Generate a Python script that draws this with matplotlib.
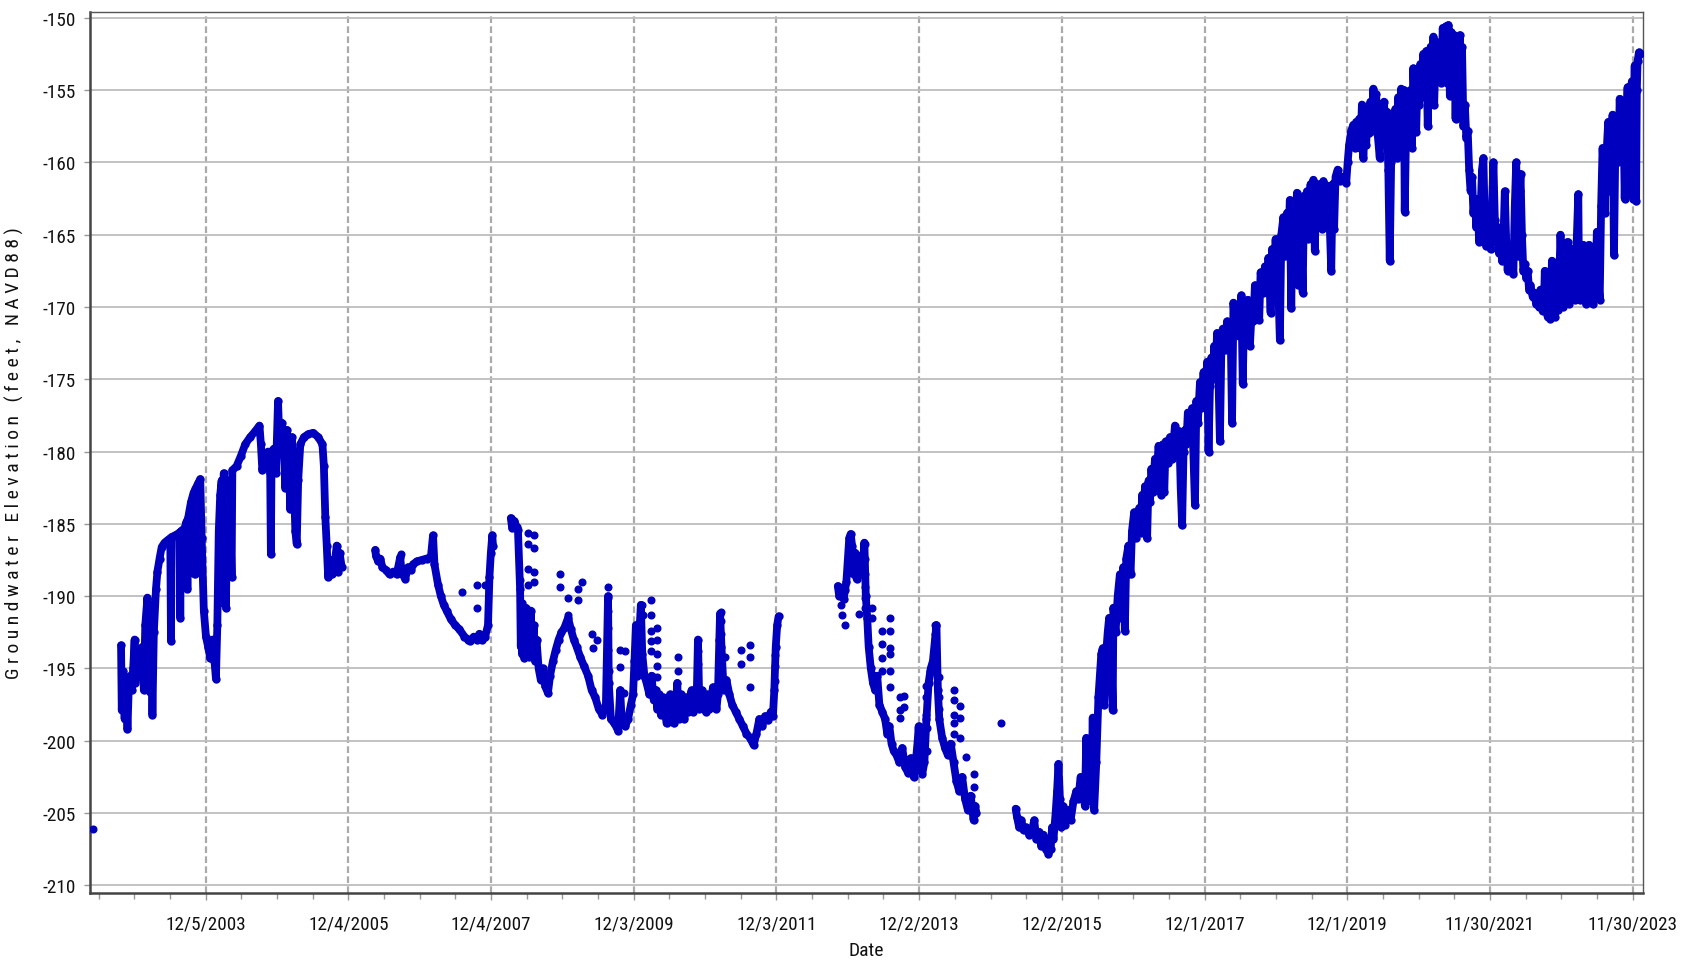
"""Groundwater elevation hydrograph, 2002-2024."""
from datetime import datetime

import matplotlib
matplotlib.use("Agg")
import matplotlib.pyplot as plt
from matplotlib.dates import date2num, num2date
from matplotlib.ticker import FixedLocator, FuncFormatter, MultipleLocator

plt.rcParams["axes.unicode_minus"] = False

# ---------------------------------------------------------------- data ----
# decimal years / feet NAVD88

lone_years = [2002.35]
lone_values = [-206.1]

seg1_years = [
    2002.74, 2002.75, 2002.77, 2002.79, 2002.81, 2002.83, 2002.85, 2002.87,
    2002.89, 2002.91, 2002.93, 2002.94, 2002.96, 2002.99, 2003.01, 2003.04,
    2003.06, 2003.08, 2003.11, 2003.12, 2003.14, 2003.16, 2003.18, 2003.20,
    2003.23, 2003.25, 2003.28, 2003.31, 2003.35, 2003.40, 2003.43, 2003.44,
    2003.45, 2003.50, 2003.56, 2003.57, 2003.58, 2003.63, 2003.66, 2003.67,
    2003.68, 2003.72, 2003.76, 2003.77, 2003.78, 2003.82, 2003.85, 2003.87,
    2003.90, 2003.93, 2003.96, 2003.99, 2004.02, 2004.05, 2004.07, 2004.09,
    2004.11, 2004.13, 2004.15, 2004.17, 2004.18, 2004.21, 2004.23, 2004.26,
    2004.29, 2004.30, 2004.36, 2004.42, 2004.48, 2004.55, 2004.62, 2004.68,
    2004.70, 2004.72, 2004.75, 2004.80, 2004.83, 2004.84, 2004.85, 2004.88,
    2004.91, 2004.94, 2004.96, 2004.99, 2005.02, 2005.04, 2005.06, 2005.09,
    2005.11, 2005.13, 2005.16, 2005.18, 2005.20, 2005.22, 2005.25, 2005.30,
    2005.36, 2005.43, 2005.50, 2005.56, 2005.58, 2005.60, 2005.62, 2005.64,
    2005.67, 2005.70, 2005.73, 2005.76, 2005.78, 2005.80, 2005.83,
]
seg1_values = [
    -193.4, -197.9, -195.2, -198.5, -196.0, -199.2, -196.0, -195.5,
    -196.5, -195.0, -193.0, -196.0, -195.0, -194.8, -195.3, -193.5,
    -196.5, -192.0, -190.1, -195.5, -196.6, -190.6, -198.2, -192.5,
    -189.5, -188.3, -187.4, -186.6, -186.3, -186.1, -186.0, -193.1,
    -185.9, -185.8, -185.6, -191.5, -185.5, -185.3, -184.8, -189.5,
    -184.6, -183.5, -182.8, -188.5, -182.6, -182.2, -181.9, -186.0,
    -191.0, -192.8, -193.5, -194.3, -193.0, -194.5, -195.7, -192.0,
    -185.5, -183.0, -182.0, -190.5, -181.5, -190.8, -183.5, -182.0,
    -188.7, -181.3, -181.0, -180.3, -179.5, -179.0, -178.6, -178.2,
    -179.5, -181.3, -180.5, -180.0, -181.5, -187.1, -180.0, -179.8,
    -181.5, -176.5, -179.5, -178.0, -180.0, -182.5, -178.5, -181.0,
    -184.0, -179.0, -182.0, -185.5, -186.4, -182.0, -179.5, -179.0,
    -178.8, -178.7, -179.0, -179.5, -181.0, -184.5, -186.5, -188.7,
    -187.5, -188.5, -187.8, -186.5, -188.3, -187.0, -188.0,
]

seg2_years = [
    2006.30, 2006.31, 2006.34, 2006.37, 2006.40, 2006.45, 2006.50, 2006.55,
    2006.60, 2006.65, 2006.67, 2006.72, 2006.76, 2006.80, 2006.83, 2006.88,
    2006.95, 2007.02, 2007.08, 2007.11, 2007.13, 2007.18, 2007.22, 2007.26,
    2007.30, 2007.36, 2007.42, 2007.48, 2007.55, 2007.60, 2007.63, 2007.68,
    2007.72, 2007.76, 2007.80, 2007.84, 2007.88, 2007.90, 2007.92, 2007.94,
    2007.95,
]
seg2_values = [
    -186.8, -187.2, -187.6, -187.4, -188.0, -188.2, -188.5, -188.3,
    -188.5, -187.3, -188.4, -188.8, -188.0, -188.2, -187.8, -187.6,
    -187.5, -187.4, -187.3, -185.8, -187.8, -189.2, -190.0, -190.6,
    -191.0, -191.6, -192.0, -192.3, -192.8, -193.0, -193.1, -192.8,
    -193.0, -192.6, -193.0, -192.8, -192.0, -188.7, -187.0, -185.8,
    -186.5,
]

seg3_years = [
    2008.20, 2008.22, 2008.25, 2008.28, 2008.30, 2008.33, 2008.34, 2008.35,
    2008.36, 2008.38, 2008.39, 2008.41, 2008.42, 2008.44, 2008.46, 2008.48,
    2008.50, 2008.52, 2008.54, 2008.56, 2008.59, 2008.62, 2008.65, 2008.68,
    2008.72, 2008.75, 2008.79, 2008.83, 2008.87, 2008.91, 2008.95, 2009.00,
    2009.04, 2009.08, 2009.12, 2009.17, 2009.22, 2009.28, 2009.33, 2009.38,
    2009.43, 2009.48, 2009.53, 2009.56, 2009.57, 2009.60, 2009.65, 2009.70,
    2009.73, 2009.75, 2009.80, 2009.84, 2009.88, 2009.91, 2009.93, 2009.95,
    2009.97, 2010.00, 2010.02, 2010.04, 2010.07, 2010.10, 2010.14, 2010.17,
    2010.20, 2010.23, 2010.25, 2010.28, 2010.30, 2010.33, 2010.35, 2010.38,
    2010.40, 2010.43, 2010.45, 2010.48, 2010.50, 2010.53, 2010.55, 2010.58,
    2010.60, 2010.63, 2010.65, 2010.68, 2010.70, 2010.73, 2010.75, 2010.78,
    2010.80, 2010.82, 2010.84, 2010.87, 2010.90, 2010.93, 2010.95, 2010.98,
    2011.00, 2011.03, 2011.05, 2011.08, 2011.10, 2011.12, 2011.13, 2011.15,
    2011.18, 2011.22, 2011.26, 2011.30, 2011.35, 2011.40, 2011.45, 2011.50,
    2011.55, 2011.60, 2011.64, 2011.68, 2011.72, 2011.76, 2011.80, 2011.84,
    2011.87, 2011.89, 2011.91, 2011.93, 2011.95,
]
seg3_values = [
    -184.6, -185.3, -184.8, -185.2, -185.4, -189.5, -193.5, -190.5,
    -194.0, -191.0, -194.3, -190.8, -193.5, -191.5, -194.2, -191.0,
    -194.0, -192.0, -194.5, -193.0, -195.0, -195.8, -195.0, -196.2,
    -196.7, -195.5, -194.5, -193.7, -193.0, -192.5, -192.2, -191.5,
    -192.3, -193.0, -193.5, -194.2, -194.8, -195.5, -196.5, -197.0,
    -197.8, -198.2, -197.5, -190.0, -196.0, -198.5, -198.8, -199.3,
    -196.5, -198.5, -199.0, -198.5, -197.5, -196.8, -194.5, -192.0,
    -195.5, -192.5, -190.6, -194.0, -195.5, -196.0, -196.8, -195.5,
    -197.2, -196.5, -197.8, -196.8, -198.2, -197.0, -197.5, -198.8,
    -198.5, -196.8, -197.8, -198.8, -198.3, -196.0, -198.5, -196.8,
    -197.5, -198.5, -197.0, -198.0, -197.3, -196.5, -198.0, -196.7,
    -197.5, -193.0, -197.8, -196.5, -197.2, -198.0, -196.8, -197.8,
    -197.5, -196.3, -197.0, -197.8, -196.8, -193.0, -191.2, -193.5,
    -196.5, -195.8, -196.8, -197.5, -198.0, -198.5, -199.0, -199.5,
    -199.8, -200.3, -199.5, -198.5, -199.0, -198.3, -198.6, -198.0,
    -198.3, -196.5, -193.5, -192.0, -191.4,
]

seg4_years = [
    2012.78, 2012.80, 2012.83, 2012.86, 2012.88, 2012.90, 2012.92, 2012.94,
    2012.96, 2012.98, 2013.00, 2013.02, 2013.04, 2013.06, 2013.09, 2013.12,
    2013.15, 2013.17, 2013.19, 2013.21, 2013.24, 2013.27, 2013.30, 2013.33,
    2013.36, 2013.40, 2013.44, 2013.47, 2013.50, 2013.53, 2013.56, 2013.60,
    2013.64, 2013.68, 2013.72, 2013.76, 2013.80, 2013.84, 2013.87, 2013.90,
    2013.91, 2013.93, 2013.96, 2013.99, 2014.02, 2014.05, 2014.08, 2014.11,
    2014.14, 2014.16, 2014.18, 2014.20, 2014.24, 2014.28, 2014.32, 2014.36,
    2014.40, 2014.44, 2014.48, 2014.52, 2014.56, 2014.60, 2014.64, 2014.68,
    2014.70, 2014.72,
]
seg4_values = [
    -189.3, -190.0, -189.5, -190.2, -189.6, -189.0, -187.5, -186.0,
    -185.7, -186.5, -188.5, -187.0, -188.8, -188.0, -187.2, -188.5,
    -186.3, -190.0, -191.5, -193.5, -195.0, -196.0, -196.5, -195.5,
    -197.5, -198.0, -198.5, -199.5, -199.0, -200.2, -200.7, -201.0,
    -201.5, -200.5, -201.8, -202.2, -201.2, -202.5, -201.5, -199.8,
    -199.0, -201.0, -202.3, -201.5, -198.5, -196.0, -195.0, -194.5,
    -193.0, -192.0, -196.5, -198.5, -199.8, -200.5, -201.0, -200.2,
    -201.5, -202.8, -203.5, -202.5, -204.0, -204.8, -203.8, -205.5,
    -204.5, -205.0,
]

# 2015 low and the climb to the end of 2017
seg5_years = [
    2015.27, 2015.29, 2015.32, 2015.35, 2015.38, 2015.42, 2015.46, 2015.50,
    2015.53, 2015.56, 2015.60, 2015.63, 2015.66, 2015.69, 2015.73, 2015.76,
    2015.78, 2015.80, 2015.83, 2015.85, 2015.87, 2015.89, 2015.91, 2015.93,
    2015.96, 2016.00, 2016.04, 2016.08, 2016.12, 2016.15, 2016.18, 2016.21,
    2016.24, 2016.26, 2016.28, 2016.31, 2016.33, 2016.35, 2016.37, 2016.40,
    2016.43, 2016.45, 2016.47, 2016.49, 2016.51, 2016.53, 2016.56, 2016.58,
    2016.61, 2016.63, 2016.64, 2016.67, 2016.70, 2016.73, 2016.75, 2016.78,
    2016.80, 2016.82, 2016.85, 2016.88, 2016.90, 2016.93, 2016.95, 2016.97,
    2017.00, 2017.02, 2017.04, 2017.06, 2017.08, 2017.11, 2017.13, 2017.15,
    2017.17, 2017.19, 2017.22, 2017.24, 2017.27, 2017.29, 2017.31, 2017.33,
    2017.35, 2017.37, 2017.40, 2017.43, 2017.46, 2017.50, 2017.53, 2017.56,
    2017.58, 2017.60, 2017.62, 2017.64, 2017.66, 2017.68, 2017.71, 2017.74,
    2017.76, 2017.78, 2017.80, 2017.82, 2017.85, 2017.87, 2017.90, 2017.92,
    2017.95, 2017.97, 2017.99,
]
seg5_values = [
    -204.7, -205.3, -206.0, -205.5, -206.2, -206.0, -206.5, -206.2,
    -205.5, -206.8, -206.3, -207.3, -206.5, -207.5, -207.8, -207.5,
    -206.0, -206.8, -205.0, -203.5, -201.6, -204.0, -206.0, -204.5,
    -205.8, -204.8, -205.5, -204.2, -203.5, -204.0, -202.5, -203.2,
    -204.5, -199.8, -203.5, -202.0, -204.2, -198.4, -204.8, -201.5,
    -197.0, -195.5, -194.0, -193.6, -197.5, -194.5, -192.5, -191.5,
    -193.6, -197.9, -190.8, -192.5, -190.0, -188.5, -191.5, -188.0,
    -192.4, -187.4, -186.5, -188.5, -185.5, -184.2, -186.0, -185.0,
    -183.9, -185.6, -183.0, -184.5, -182.4, -186.0, -182.0, -183.5,
    -181.2, -182.8, -180.5, -182.0, -179.6, -181.0, -183.0, -179.5,
    -182.8, -179.3, -180.8, -179.0, -180.5, -178.2, -180.0, -178.6,
    -182.5, -185.1, -180.0, -178.5, -179.5, -177.3, -179.0, -177.0,
    -180.5, -183.7, -176.5, -178.0, -175.2, -177.0, -174.5, -176.5,
    -173.8, -180.0, -175.5,
]

# 2018 to the 2021 peak
seg6_years = [
    2018.01, 2018.03, 2018.05, 2018.07, 2018.09, 2018.11, 2018.13, 2018.15,
    2018.17, 2018.20, 2018.23, 2018.25, 2018.28, 2018.30, 2018.32, 2018.34,
    2018.37, 2018.40, 2018.43, 2018.45, 2018.47, 2018.50, 2018.52, 2018.55,
    2018.58, 2018.60, 2018.62, 2018.65, 2018.68, 2018.70, 2018.73, 2018.76,
    2018.79, 2018.81, 2018.84, 2018.86, 2018.88, 2018.91, 2018.94, 2018.97,
    2018.99, 2019.02, 2019.04, 2019.07, 2019.09, 2019.11, 2019.13, 2019.15,
    2019.18, 2019.21, 2019.23, 2019.25, 2019.27, 2019.29, 2019.31, 2019.33,
    2019.35, 2019.37, 2019.40, 2019.42, 2019.44, 2019.46, 2019.48, 2019.51,
    2019.53, 2019.56, 2019.58, 2019.61, 2019.63, 2019.66, 2019.69, 2019.71,
    2019.73, 2019.75, 2019.78, 2019.81, 2019.84, 2019.87, 2019.90, 2019.92,
    2019.94, 2019.97, 2020.00, 2020.02, 2020.04, 2020.06, 2020.08, 2020.10,
    2020.12, 2020.14, 2020.16, 2020.18, 2020.20, 2020.22, 2020.24, 2020.26,
    2020.28, 2020.30, 2020.32, 2020.34, 2020.37, 2020.39, 2020.41, 2020.43,
    2020.45, 2020.47, 2020.49, 2020.51, 2020.53, 2020.55, 2020.57, 2020.59,
    2020.61, 2020.63, 2020.65, 2020.67, 2020.69, 2020.71, 2020.72, 2020.74,
    2020.76, 2020.78, 2020.80, 2020.82, 2020.84, 2020.86, 2020.88, 2020.90,
    2020.92, 2020.94, 2020.96, 2020.98, 2021.00, 2021.02, 2021.04, 2021.06,
    2021.08, 2021.10, 2021.12, 2021.13, 2021.15, 2021.17, 2021.19, 2021.21,
    2021.23, 2021.25, 2021.27, 2021.29, 2021.31, 2021.33, 2021.35, 2021.37,
    2021.39, 2021.41, 2021.43, 2021.45, 2021.47, 2021.49, 2021.51, 2021.52,
    2021.54,
]
seg6_values = [
    -173.5, -175.0, -172.7, -174.5, -171.8, -175.0, -179.3, -173.0,
    -171.5, -173.0, -171.0, -172.8, -171.5, -178.0, -169.7, -171.5,
    -170.0, -172.0, -169.2, -175.3, -170.2, -171.5, -169.5, -172.7,
    -169.8, -171.0, -168.5, -170.0, -170.9, -167.6, -169.0, -167.2,
    -168.8, -166.6, -170.4, -166.0, -168.0, -165.3, -167.5, -172.3,
    -165.0, -163.8, -166.5, -163.5, -165.5, -162.6, -170.1, -163.0,
    -165.0, -162.1, -168.5, -162.5, -165.0, -169.0, -162.3, -164.5,
    -162.0, -165.3, -161.5, -163.5, -161.2, -166.1, -161.5, -163.0,
    -161.5, -164.6, -161.3, -162.5, -161.6, -163.0, -167.5, -161.5,
    -164.6, -161.0, -160.5, -161.3, -161.2, -161.0, -161.4, -160.0,
    -158.8, -157.8, -157.4, -159.0, -157.2, -158.5, -157.0, -159.0,
    -156.0, -159.7, -157.5, -158.8, -156.3, -158.0, -155.8, -157.8,
    -154.9, -157.0, -155.3, -158.0, -159.7, -156.0, -157.5, -155.8,
    -158.5, -156.5, -160.5, -166.8, -160.0, -157.0, -158.5, -156.3,
    -159.7, -155.5, -157.5, -154.9, -157.0, -155.0, -163.4, -157.5,
    -155.8, -158.5, -155.0, -159.0, -153.5, -156.0, -157.9, -154.0,
    -156.0, -153.2, -155.5, -152.5, -154.5, -152.3, -157.5, -153.0,
    -152.0, -154.5, -151.3, -156.0, -152.5, -151.7, -154.0, -152.0,
    -154.5, -150.7, -153.5, -150.6, -154.5, -150.5, -155.4, -151.0,
    -154.0, -151.2, -157.0, -151.5, -154.0, -151.2, -155.0, -152.0,
    -157.5,
]

# decline after the peak, the 2022 low and the 2023 recovery
seg7_years = [
    2021.56, 2021.58, 2021.60, 2021.62, 2021.64, 2021.66, 2021.68, 2021.70,
    2021.72, 2021.74, 2021.76, 2021.78, 2021.80, 2021.82, 2021.84, 2021.86,
    2021.88, 2021.90, 2021.92, 2021.94, 2021.96, 2021.98, 2022.00, 2022.02,
    2022.04, 2022.06, 2022.08, 2022.10, 2022.12, 2022.14, 2022.16, 2022.18,
    2022.20, 2022.22, 2022.24, 2022.26, 2022.28, 2022.30, 2022.31, 2022.33,
    2022.34, 2022.36, 2022.38, 2022.40, 2022.42, 2022.44, 2022.46, 2022.48,
    2022.51, 2022.53, 2022.56, 2022.58, 2022.60, 2022.62, 2022.65, 2022.67,
    2022.68, 2022.70, 2022.72, 2022.74, 2022.76, 2022.78, 2022.80, 2022.82,
    2022.84, 2022.86, 2022.88, 2022.90, 2022.92, 2022.94, 2022.96, 2022.99,
    2023.00, 2023.02, 2023.04, 2023.06, 2023.08, 2023.10, 2023.12, 2023.15,
    2023.16, 2023.18, 2023.20, 2023.22, 2023.24, 2023.26, 2023.28, 2023.30,
    2023.32, 2023.35, 2023.37, 2023.39, 2023.41, 2023.43, 2023.45, 2023.47,
    2023.49, 2023.51, 2023.52, 2023.54, 2023.56, 2023.57, 2023.59, 2023.60,
    2023.62, 2023.63, 2023.65, 2023.67, 2023.69, 2023.71, 2023.73, 2023.75,
    2023.77, 2023.78, 2023.80, 2023.82, 2023.84, 2023.86, 2023.87, 2023.89,
    2023.90, 2023.92, 2023.93, 2023.94, 2023.96, 2023.97, 2023.98, 2024.00,
    2024.02,
]
seg7_values = [
    -156.0, -158.3, -157.8, -160.5, -162.0, -161.0, -163.5, -162.5,
    -164.5, -163.0, -165.5, -163.5, -160.5, -159.7, -164.5, -165.8,
    -164.0, -165.5, -166.0, -163.0, -160.0, -164.0, -165.5, -164.5,
    -166.3, -165.0, -166.8, -165.5, -162.0, -165.5, -167.5, -166.0,
    -167.0, -166.5, -167.7, -163.0, -160.0, -165.0, -166.5, -162.0,
    -160.8, -165.0, -167.5, -167.0, -168.0, -167.5, -168.8, -168.5,
    -169.3, -169.0, -169.8, -169.4, -170.0, -168.8, -170.3, -169.5,
    -167.5, -169.8, -170.7, -170.0, -170.8, -166.8, -169.0, -170.7,
    -169.5, -170.2, -168.5, -165.0, -168.0, -170.0, -169.0, -168.5,
    -165.5, -169.8, -168.0, -166.0, -168.5, -169.5, -166.5, -162.2,
    -168.0, -169.5, -167.0, -165.7, -168.5, -169.8, -167.5, -165.7,
    -168.0, -169.8, -167.5, -169.0, -164.8, -168.0, -169.5, -163.0,
    -159.0, -161.0, -163.5, -160.0, -158.0, -157.2, -160.5, -162.0,
    -158.0, -156.7, -166.4, -158.5, -157.0, -160.0, -155.6, -158.5,
    -160.0, -156.0, -162.5, -157.0, -154.8, -158.0, -159.0, -155.0,
    -154.4, -162.5, -156.0, -153.3, -162.7, -155.0, -153.0, -152.4,
    -152.5,
]

# loose readings that sit off the main trace
dots_years = [
    2006.66, 2007.51, 2007.72, 2007.72, 2007.84,
    2008.33, 2008.44, 2008.44, 2008.44, 2008.44, 2008.52, 2008.52, 2008.52,
    2008.52, 2008.89, 2008.89, 2009.00, 2009.00, 2009.14, 2009.14, 2009.19,
    2009.33, 2009.40, 2009.35, 2009.56, 2009.56, 2009.56, 2009.56, 2009.56,
    2009.58, 2009.73, 2009.73, 2009.80, 2009.78, 2010.03, 2010.05, 2010.16,
    2010.16, 2010.16, 2010.16, 2010.16, 2010.25, 2010.25, 2010.25, 2010.25,
    2010.25, 2010.54, 2010.54, 2010.82, 2010.82, 2011.15, 2011.15, 2011.15,
    2011.20, 2011.43, 2011.43, 2011.55, 2011.55, 2011.55, 2011.90, 2011.90,
    2011.90,
    2012.82, 2012.84, 2012.88, 2013.07, 2013.16, 2013.16, 2013.16, 2013.16,
    2013.16, 2013.16, 2013.25, 2013.25, 2013.39, 2013.39, 2013.39, 2013.39,
    2013.51, 2013.51, 2013.51, 2013.51, 2013.51, 2013.51, 2013.65, 2013.65,
    2013.65, 2013.71, 2013.71, 2014.02, 2014.02, 2014.02, 2014.03, 2014.03,
    2014.07, 2014.14, 2014.14, 2014.14, 2014.14, 2014.19, 2014.19, 2014.19,
    2014.40, 2014.40, 2014.40, 2014.40, 2014.40, 2014.49, 2014.49, 2014.49,
    2014.58, 2014.68, 2014.68, 2015.06,
]
dots_values = [
    -187.1, -189.7, -189.2, -190.8, -189.2,
    -188.9, -185.6, -186.4, -188.1, -189.2, -185.8, -186.7, -188.3,
    -189.0, -188.5, -189.4, -190.1, -191.3, -189.5, -190.3, -189.0,
    -192.6, -193.0, -193.6, -189.4, -190.1, -191.0, -192.2, -193.7,
    -195.2, -193.7, -194.9, -193.8, -196.7, -190.6, -191.3, -190.3,
    -191.3, -192.4, -193.1, -193.8, -192.2, -193.0, -194.0, -194.8,
    -195.6, -194.2, -195.2, -193.8, -194.7, -191.1, -191.7, -192.6,
    -194.2, -193.7, -194.7, -193.4, -194.2, -196.3, -194.1, -194.8,
    -195.9,
    -190.6, -191.3, -192.0, -191.2, -186.4, -187.4, -188.5, -189.4,
    -190.1, -190.8, -190.8, -191.5, -192.4, -193.3, -194.3, -195.2,
    -191.5, -192.4, -193.6, -194.0, -195.2, -196.3, -197.0, -197.9,
    -198.4, -196.9, -197.7, -196.2, -197.0, -198.2, -199.1, -200.7,
    -195.2, -192.0, -192.6, -193.3, -194.0, -195.6, -197.0, -197.8,
    -196.5, -197.2, -198.2, -198.8, -199.5, -197.6, -198.4, -199.8,
    -201.1, -202.3, -203.2, -198.8,
]

# seg5 -> seg6 -> seg7 is one unbroken record, so they are joined end to end
SEGMENTS = [
    (seg1_years, seg1_values),
    (seg2_years, seg2_values),
    (seg3_years, seg3_values),
    (seg4_years, seg4_values),
    (seg5_years + seg6_years + seg7_years,
     seg5_values + seg6_values + seg7_values),
]

FIRST_TICK = datetime(2003, 12, 5)
TICK_STEP = 730          # days between labelled dates
MARK = "#0000BE"
FONT = ["Roboto Condensed", "Liberation Sans Narrow", "Liberation Sans"]


def to_num(years):
    out = []
    for y in years:
        whole = int(y)
        out.append(date2num(datetime(whole, 1, 1)) + (y - whole) * 365.25)
    return out


def date_label(x, pos=None):
    d = num2date(x)
    return f"{d.month}/{d.day}/{d.year}"


# ----------------------------------------------------------------- plot ----

fig = plt.figure(figsize=(16.82, 9.70), dpi=100)
ax = fig.add_axes([0.0535, 0.0788, 0.9231, 0.9078])

for years, values in SEGMENTS:
    ax.plot(to_num(years), values, color=MARK, linewidth=5.6,
            solid_capstyle="round", solid_joinstyle="round",
            marker="o", markersize=5.0, zorder=3)
ax.plot(to_num(dots_years), dots_values, linestyle="none", marker="o",
        markersize=4.8, color=MARK, zorder=3)
ax.plot(to_num(lone_years), lone_values, linestyle="none", marker="o",
        markersize=4.8, color=MARK, zorder=3)

ax.set_xlim(to_num([2002.305])[0], to_num([2024.052])[0])
ax.set_ylim(-210.5, -149.6)

start = date2num(FIRST_TICK)
majors = [start + k * TICK_STEP for k in range(11)]
minors = [start + k * TICK_STEP / 4 for k in range(-3, 42)]
ax.xaxis.set_major_locator(FixedLocator(majors))
ax.xaxis.set_minor_locator(FixedLocator(minors))
ax.xaxis.set_major_formatter(FuncFormatter(date_label))
ax.yaxis.set_major_locator(MultipleLocator(5))

ax.grid(axis="y", color="#bdbdbd", linewidth=1.3, zorder=0)
ax.grid(axis="x", which="major", color="#aaaaaa", linewidth=1.6,
        linestyle=(0, (3, 1.5)), zorder=0)
ax.set_axisbelow(True)

for side in ("left", "bottom"):
    ax.spines[side].set_color("#444444")
    ax.spines[side].set_linewidth(1.8)
for side in ("top", "right"):
    ax.spines[side].set_color("#555555")
    ax.spines[side].set_linewidth(1.0)

ax.tick_params(axis="both", which="both", color="#999999", width=1.0)
ax.tick_params(axis="x", which="major", length=5, pad=11)
ax.tick_params(axis="x", which="minor", length=4)
ax.tick_params(axis="y", length=4, pad=6)
for lab in ax.get_xticklabels() + ax.get_yticklabels():
    lab.set_family(FONT)
    lab.set_fontsize(13.8)
    lab.set_color("#111111")

ax.set_xlabel("Date", family=FONT, fontsize=14, color="#111111",
              labelpad=6)
ax.set_ylabel(" ".join("Groundwater Elevation (feet, NAVD88)"),
              family=FONT, fontsize=14, color="#111111")
ax.yaxis.set_label_coords(-0.0425, 0.5)

fig.savefig("out.png", dpi=100, facecolor="white")
